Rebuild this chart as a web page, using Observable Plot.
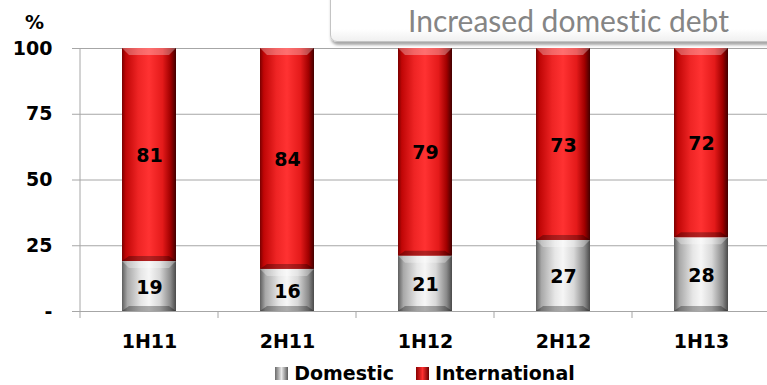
<!DOCTYPE html>
<html>
<head>
<meta charset="utf-8">
<script src="https://cdn.jsdelivr.net/npm/d3@7"></script>
<script src="https://cdn.jsdelivr.net/npm/@observablehq/plot@0.6"></script>
<style>
  html, body { margin: 0; padding: 0; background: #fff; }
  body { width: 767px; height: 385px; overflow: hidden; position: relative; font-family: "DejaVu Sans", sans-serif; }
  #chart svg { display: block; }
  #unit { position: absolute; left: 25px; top: 11px; font-weight: bold; font-size: 19px; color: #000; }
  #callout {
    position: absolute; left: 330px; top: -8px; width: 460px; height: 50px;
    box-sizing: border-box; border: 1px solid #c4c4c4; border-radius: 0 0 0 7px;
    background: linear-gradient(#ffffff 0%, #ffffff 75%, #f0f0f0 100%);
    box-shadow: 1px 3px 3px rgba(0,0,0,0.35);
  }
  #callout span {
    position: absolute; left: 77px; top: 9px; font-family: Lato, "Open Sans", sans-serif;
    font-size: 30px; color: #858585; white-space: nowrap;
    font-variant-ligatures: none; font-feature-settings: "liga" 0, "dlig" 0;
  }
  #legend {
    position: absolute; left: 80px; top: 363px; width: 690px; text-align: center;
    font-weight: bold; font-size: 19px; line-height: 21px; color: #000; white-space: nowrap;
  }
  #legend .item { display: inline-block; margin: 0 11px; }
  #legend .sw { display: inline-block; width: 13px; height: 13px; margin-right: 6px; vertical-align: 0px; }
</style>
</head>
<body>
<div id="chart"></div>
<div id="unit"></div>
<div id="callout"><span></span></div>
<div id="legend"></div>
<script>
// ---- data ----
const periods = ["1H11", "2H11", "1H12", "2H12", "1H13"];
const domestic = [19, 16, 21, 27, 28];
const international = [81, 84, 79, 73, 72];
const series = ["Domestic", "International"];
const yTicks = [0, 25, 50, 75, 100];
const yTickLabels = ["-", "25", "50", "75", "100"];
const unitLabel = "%";
const calloutText = "Increased domestic debt";

// ---- build table ----
const rows = periods.flatMap((p, i) => [
  {period: p, type: series[0], value: domestic[i]},
  {period: p, type: series[1], value: international[i]}
]);
const fills = {Domestic: "url(#gGray)", International: "url(#gRed)"};
const swatchCss = {
  Domestic: "linear-gradient(90deg,#6a6a6a,#e8e8e8 50%,#5a5a5a)",
  International: "linear-gradient(90deg,#8a0000,#ff3030 50%,#6a0000)"
};

const plot = Plot.plot({
  width: 767,
  height: 364,
  marginTop: 48,
  marginBottom: 53,
  marginLeft: 80,
  marginRight: -3,
  style: {fontFamily: "DejaVu Sans, sans-serif", fontWeight: "bold", fontSize: "19px", color: "#000", background: "#fff", overflow: "visible"},
  x: {domain: periods, paddingInner: 0.61, paddingOuter: 0.305, label: null},
  y: {domain: [0, 100], label: null},
  color: {type: "identity"},
  marks: [
    Plot.gridY(yTicks, {stroke: "#a6a6a6", strokeOpacity: 1}),
    Plot.axisY(yTicks, {tickSize: 8, tickPadding: 20, stroke: "#a6a6a6", fontSize: 19, fontWeight: "bold", fill: "#000",
      tickFormat: d => yTickLabels[yTicks.indexOf(d)], label: null}),
    Plot.axisX({tickSize: 0, tickPadding: 23, fontSize: 19, fontWeight: "bold", fill: "#000", label: null}),
    Plot.barY(rows, {x: "period", y: "value", z: "type", fill: d => fills[d.type]}),
    Plot.text(rows, Plot.stackY({x: "period", y: "value", z: "type", text: d => String(d.value),
      fontSize: 19, fontWeight: "bold", fill: "#000", dy: 1}))
  ]
});

// gradients
const svg = d3.select(plot);
const defs = svg.insert("defs", ":first-child");
function hgrad(id, stops) {
  const g = defs.append("linearGradient").attr("id", id).attr("x1", 0).attr("x2", 1).attr("y1", 0).attr("y2", 0);
  stops.forEach(([o, c]) => g.append("stop").attr("offset", o).attr("stop-color", c));
}
hgrad("gRed", [[0, "#7a0000"], [0.07, "#c00606"], [0.3, "#ee2424"], [0.5, "#ff3232"], [0.75, "#e41a1a"], [0.9, "#a00000"], [1, "#420000"]]);
hgrad("gGray", [[0, "#5e5e5e"], [0.1, "#a8a8a8"], [0.35, "#e6e6e6"], [0.5, "#f6f6f6"], [0.7, "#d8d8d8"], [0.9, "#8a8a8a"], [1, "#4a4a4a"]]);

// bevel decorations derived from the rendered bars
svg.selectAll('g[aria-label="bar"] rect').each(function () {
  const r = d3.select(this);
  const x = +r.attr("x"), y = +r.attr("y"), w = +r.attr("width"), h = +r.attr("height");
  const g = d3.select(this.parentNode);
  const b = 7;
  g.append("polygon").attr("points", `${x},${y} ${x + w},${y} ${x + w - b},${y + b} ${x + b},${y + b}`)
    .attr("fill", "#fff").attr("fill-opacity", 0.3);
  g.append("polygon").attr("points", `${x},${y + h} ${x + w},${y + h} ${x + w - b},${y + h - 5} ${x + b},${y + h - 5}`)
    .attr("fill", "#000").attr("fill-opacity", 0.3);
});

// axis line and category boundary ticks, from the plot's own scales
const sx = plot.scale("x"), sy = plot.scale("y");
const x0 = sx.range[0], x1 = sx.range[1];
const n = periods.length;
const yTop = sy.apply(100), yBase = sy.apply(0);
const axG = svg.append("g").attr("stroke", "#a6a6a6");
axG.append("line").attr("x1", x0).attr("x2", x0).attr("y1", yTop).attr("y2", yBase + 7);
for (let k = 1; k <= n; k++) {
  const xb = x0 + k * (x1 - x0) / n;
  axG.append("line").attr("x1", xb).attr("x2", xb).attr("y1", yBase).attr("y2", yBase + 7);
}
svg.selectAll('g[aria-label="text"]').raise();

document.getElementById("chart").appendChild(plot);
document.getElementById("unit").textContent = unitLabel;
document.querySelector("#callout span").textContent = calloutText;
const legend = document.getElementById("legend");
series.forEach(s => {
  const it = document.createElement("span");
  it.className = "item";
  const sw = document.createElement("span");
  sw.className = "sw";
  sw.style.background = swatchCss[s];
  it.appendChild(sw);
  it.appendChild(document.createTextNode(s));
  legend.appendChild(it);
});
</script>
</body>
</html>
